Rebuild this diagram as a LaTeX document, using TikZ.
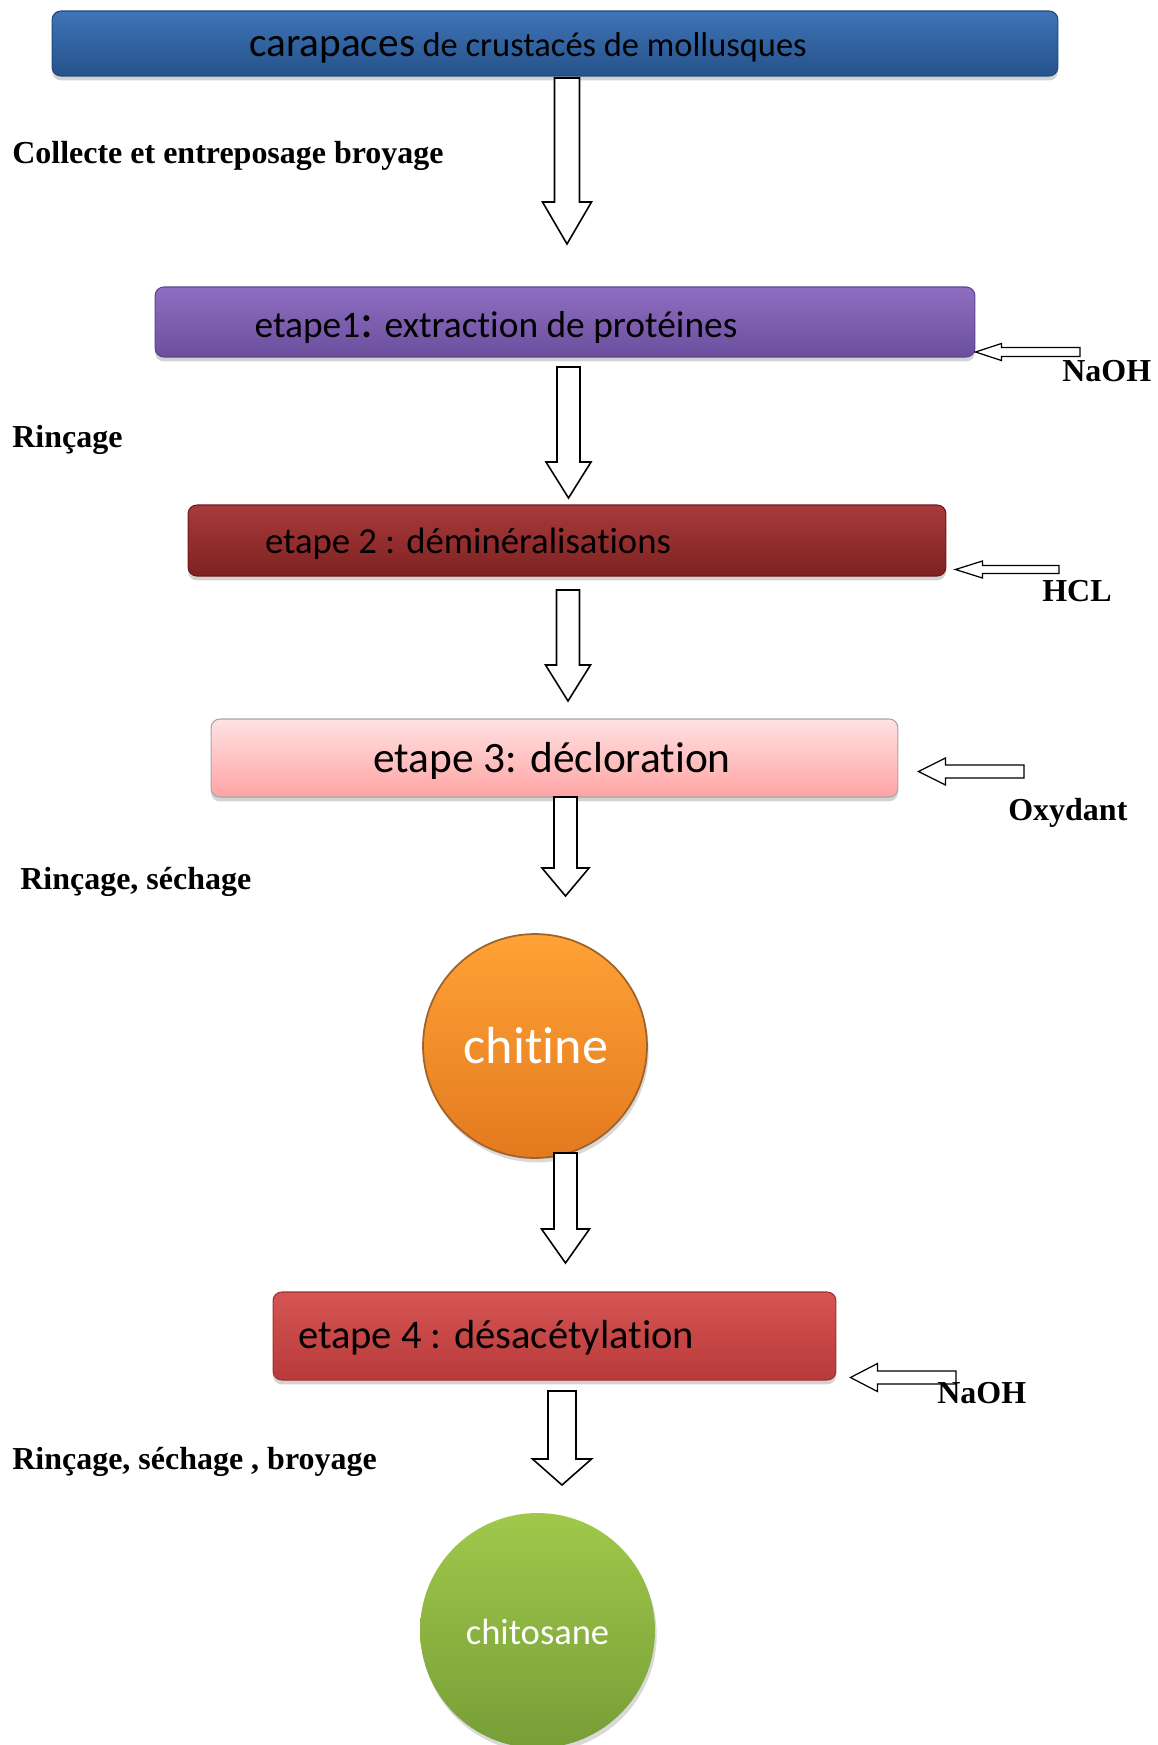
\documentclass[tikz,border=0pt]{standalone}
\usepackage{fontspec}
\setmainfont{Liberation Serif}
\newfontfamily\calib[Ligatures={NoCommon}]{Carlito}
\usepackage{tikz}
\usetikzlibrary{positioning,calc,shadows}

\definecolor{bleuh}{HTML}{3F74B8}
\definecolor{bleub}{HTML}{25528A}
\definecolor{bleud}{HTML}{1F4A7A}
\definecolor{violh}{HTML}{8D6EC0}
\definecolor{violb}{HTML}{6C4E9E}
\definecolor{viold}{HTML}{5E4590}
\definecolor{bordh}{HTML}{A83B3B}
\definecolor{bordb}{HTML}{7F2121}
\definecolor{bordd}{HTML}{6E1A1A}
\definecolor{roseh}{HTML}{FFE2E2}
\definecolor{roseb}{HTML}{FFA3A3}
\definecolor{rougeh}{HTML}{D65454}
\definecolor{rougeb}{HTML}{B83A3A}
\definecolor{rouged}{HTML}{9E3030}
\definecolor{orh}{HTML}{FFA235}
\definecolor{orb}{HTML}{E37A1F}
\definecolor{ord}{HTML}{A0622A}
\definecolor{verth}{HTML}{A0C84B}
\definecolor{vertb}{HTML}{779E37}

\begin{document}
\begin{tikzpicture}[x=0.02cm, y=0.02cm,
	boite/.style={rectangle, rounded corners=5pt, line width=0.6pt, drop shadow={shadow xshift=0pt, shadow yshift=-2.5pt, opacity=.35}},
	rond/.style={circle, drop shadow={shadow xshift=1pt, shadow yshift=-2.5pt, opacity=.3}},
	txt/.style={inner sep=0pt, font=\calib},
	lab/.style={inner sep=0pt, anchor=west, font=\fontsize{18.2}{21}\selectfont\bfseries},
	hol/.style={draw, fill=white, line width=0.9pt},
	dn/.style n args={3}{to path={($(\tikztostart)+(-#1,0)$) -- ($(\tikztotarget)+(-#1,#3)$) -- ($(\tikztotarget)+(-#2,#3)$) -- (\tikztotarget) -- ($(\tikztotarget)+(#2,#3)$) -- ($(\tikztotarget)+(#1,#3)$) -- ($(\tikztostart)+(#1,0)$) -- cycle}},
	lf/.style n args={3}{to path={($(\tikztostart)+(0,#1)$) -- ($(\tikztotarget)+(#3,#1)$) -- ($(\tikztotarget)+(#3,#2)$) -- (\tikztotarget) -- ($(\tikztotarget)+(#3,-#2)$) -- ($(\tikztotarget)+(#3,-#1)$) -- ($(\tikztostart)+(0,-#1)$) -- cycle}}
	]
		\useasboundingbox (0,0) rectangle (1157,-1745);
		
		\node [boite, draw=bleud, top color=bleuh, bottom color=bleub, minimum width=20.12cm, minimum height=1.3cm] (b1) at (555,-43.5){};
		\node [boite, draw=viold, top color=violh, bottom color=violb, minimum width=16.4cm, minimum height=1.4cm] (b2) at (565,-322){};
		\node [boite, draw=bordd, top color=bordh, bottom color=bordb, minimum width=15.16cm, minimum height=1.42cm] (b3) at (567,-540.5){};
		\node [boite, draw=black!35, top color=roseh, bottom color=roseb, minimum width=13.74cm, minimum height=1.56cm] (b4) at (554.5,-758){};
		\node [boite, draw=rouged, top color=rougeh, bottom color=rougeb, minimum width=11.26cm, minimum height=1.76cm] (b5) at (554.5,-1336){};
		
		\node [rond, draw=ord, line width=1pt, top color=orh, bottom color=orb, minimum size=4.48cm] (c1) at (535,-1046){};
		\node [rond, top color=verth, bottom color=vertb, minimum size=4.7cm] (c2) at (537.5,-1630.5){};
		
		\node [txt, shift={(-27,-4)}] (t1) at (b1.center) {{\fontsize{23.5}{26}\selectfont carapaces}\hspace{2pt} {\fontsize{19.6}{22}\selectfont de crustacés de mollusques}};
		\node [txt, shift={(-69,-6)}, font=\calib\fontsize{21.3}{24}\selectfont] (t2) at (b2.center) {etape1{\fontsize{28}{30}\selectfont:} extraction de protéines};
		\node [txt, shift={(-99,-3)}, font=\calib\fontsize{20.9}{24}\selectfont] (t3) at (b3.center) {etape 2 : déminéralisations};
		\node [txt, shift={(-2.5,-2.5)}, font=\calib\fontsize{24.7}{28}\selectfont] (t4) at (b4.center) {etape 3: décloration};
		\node [txt, shift={(-58.5,-2)}, font=\calib\fontsize{23.1}{26}\selectfont] (t5) at (b5.center) {etape 4 : désacétylation};
		\node [txt, shift={(1,0)}, text=white, font=\calib\fontsize{29.7}{32}\selectfont] (t6) at (c1.center) {chitine};
		\node [txt, shift={(0,-1.5)}, text=white, font=\calib\fontsize{20.8}{24}\selectfont] (t7) at (c2.center) {chitosane};
		
		\coordinate (a1) at (567,-78);
		\coordinate (a1e) at (567,-244);
		\coordinate (a2) at (568.5,-367);
		\coordinate (a2e) at (568.5,-498);
		\coordinate (a3) at (568,-590);
		\coordinate (a3e) at (568,-701);
		\coordinate (a4) at (565.5,-797);
		\coordinate (a4e) at (565.5,-896);
		\coordinate (a5) at (565.5,-1153);
		\coordinate (a5e) at (565.5,-1263);
		\coordinate (a6) at (562,-1391);
		\coordinate (a6e) at (562,-1485);
		
		\draw[hol] (a1) to[dn={12.5}{24.5}{42}] (a1e);
		\draw[hol] (a2) to[dn={11.5}{22.5}{36}] (a2e);
		\draw[hol] (a3) to[dn={11.5}{22.5}{36}] (a3e);
		\draw[hol] (a4) to[dn={11.5}{23.5}{28}] (a4e);
		\draw[hol] (a5) to[dn={11.5}{24}{34}] (a5e);
		\draw[hol] (a6) to[dn={14}{29.5}{26}] (a6e);
		
		\coordinate (r1) at (1080,-352);
		\coordinate (r2) at (1059,-569.5);
		\coordinate (r3) at (1024,-771.5);
		\coordinate (r4) at (956,-1377.5);
		
		\draw[hol, line width=0.7pt] (r1) to[lf={4.5}{8.5}{26}] (b2.east |- r1);
		\draw[hol, line width=0.7pt] (r2) to[lf={4}{8.5}{27}] ($(b3.east |- r2)+(9,0)$);
		\draw[hol, line width=0.7pt] (r3) to[lf={6.5}{13.5}{27}] ($(b4.east |- r3)+(20,0)$);
		\draw[hol, line width=0.7pt] (r4) to[lf={6.5}{14}{27}] ($(b5.east |- r4)+(14,0)$);
		
		\node [lab] (l1) at (12,-156) {Collecte et entreposage broyage};
		\node [lab] (l2) at (12,-440) {Rinçage};
		\node [lab] (l3) at (20,-882) {Rinçage, séchage};
		\node [lab] (l4) at (12,-1462) {Rinçage, séchage , broyage};
		\node [lab] (n1) at (1062,-371) {NaOH};
		\node [lab] (n2) at (1042,-591) {HCL};
		\node [lab] (n3) at (1008,-813) {Oxydant};
		\node [lab] (n4) at (937,-1393) {NaOH};
	\end{tikzpicture}
\end{document}
